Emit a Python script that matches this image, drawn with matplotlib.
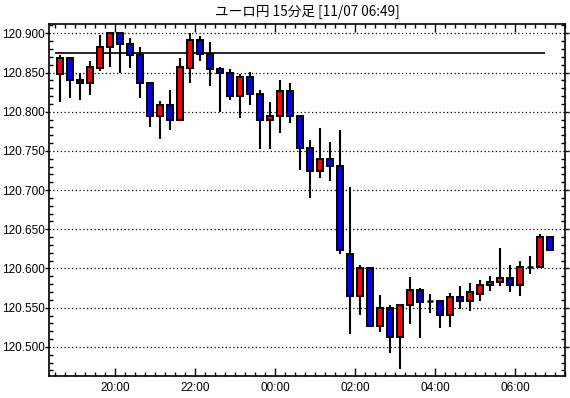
import matplotlib
matplotlib.use("Agg")
import matplotlib.pyplot as plt
from matplotlib.ticker import MultipleLocator, FixedLocator

# ---- data ----
title = "ユーロ円 15分足 [11/07 06:49]"
start_time = "18:30"   # first candle
interval_min = 15
opens  = [120.848, 120.868, 120.841, 120.836, 120.856, 120.883, 120.900, 120.886, 120.872, 120.836,
          120.795, 120.809, 120.790, 120.856, 120.891, 120.874, 120.854, 120.850, 120.820, 120.844,
          120.823, 120.789, 120.795, 120.827, 120.795, 120.754, 120.725, 120.740, 120.731, 120.618,
          120.565, 120.600, 120.527, 120.550, 120.512, 120.553, 120.573, 120.558, 120.558, 120.541,
          120.563, 120.559, 120.568, 120.579, 120.583, 120.588, 120.579, 120.602, 120.602, 120.640]
highs  = [120.872, 120.868, 120.850, 120.865, 120.898, 120.902, 120.902, 120.894, 120.882, 120.836,
          120.814, 120.828, 120.869, 120.901, 120.897, 120.889, 120.857, 120.855, 120.848, 120.851,
          120.828, 120.812, 120.840, 120.837, 120.795, 120.764, 120.779, 120.761, 120.777, 120.704,
          120.605, 120.602, 120.566, 120.553, 120.553, 120.589, 120.575, 120.568, 120.560, 120.569,
          120.578, 120.582, 120.585, 120.590, 120.626, 120.605, 120.610, 120.616, 120.644, 120.640]
lows   = [120.813, 120.818, 120.815, 120.821, 120.852, 120.857, 120.850, 120.856, 120.818, 120.781,
          120.765, 120.777, 120.790, 120.837, 120.865, 120.833, 120.799, 120.815, 120.792, 120.808,
          120.753, 120.753, 120.773, 120.786, 120.726, 120.690, 120.716, 120.712, 120.618, 120.516,
          120.541, 120.525, 120.519, 120.492, 120.472, 120.529, 120.511, 120.543, 120.524, 120.525,
          120.548, 120.546, 120.558, 120.571, 120.578, 120.570, 120.565, 120.593, 120.602, 120.624]
closes = [120.868, 120.841, 120.836, 120.857, 120.882, 120.900, 120.886, 120.872, 120.836, 120.795,
          120.809, 120.790, 120.857, 120.891, 120.873, 120.854, 120.850, 120.820, 120.844, 120.823,
          120.789, 120.795, 120.827, 120.795, 120.754, 120.725, 120.740, 120.731, 120.623, 120.565,
          120.600, 120.527, 120.550, 120.512, 120.553, 120.573, 120.557, 120.558, 120.541, 120.563,
          120.559, 120.570, 120.579, 120.583, 120.588, 120.579, 120.602, 120.602, 120.640, 120.624]
ref_level = 120.8745
ref_span = ("18:30", "06:45")
xtick_labels = ["20:00", "22:00", "00:00", "02:00", "04:00", "06:00"]
ytick_values = [120.500, 120.550, 120.600, 120.650, 120.700, 120.750, 120.800, 120.850, 120.900]

# ---- helpers: minutes relative to 20:00 ----
def to_min(s):
    h, m = map(int, s.split(":"))
    t = h * 60 + m - 20 * 60
    if t < -240:
        t += 24 * 60
    return t

t0 = to_min(start_time)
starts = [t0 + i * interval_min for i in range(len(opens))]
centers = [s + interval_min / 2 for s in starts]

fig = plt.figure(figsize=(5.70, 3.98), dpi=100)
ax = fig.add_axes([49.3 / 570, 1 - 375.5 / 398, (565 - 49.3) / 570, (375.5 - 24.3) / 398])

# wicks
ax.vlines(centers, lows, highs, colors="black", linewidth=1.5, zorder=2)
# bodies
for c, o, cl in zip(centers, opens, closes):
    if cl > o:
        col = "#ff0000"
    elif cl < o:
        col = "#0000ff"
    else:
        col = "black"
    if cl == o:
        ax.hlines(o, c - 4.5, c + 4.5, colors="black", linewidth=1.8, zorder=3)
    else:
        ax.bar(c, cl - o, bottom=o, width=7.8, color=col, edgecolor="black",
               linewidth=1.4, zorder=3)

# reference line
ax.hlines(ref_level, to_min(ref_span[0]), to_min(ref_span[1]), colors="black",
          linewidth=1.2, zorder=1)

# grid
for v in ytick_values:
    ax.axhline(v, color="black", linestyle=(0, (1, 2)), linewidth=0.9, zorder=0)

ax.set_ylim(120.4635, 120.9115)
ax.set_xlim(-98.5, 675)

ax.yaxis.set_major_locator(FixedLocator(ytick_values))
ax.yaxis.set_minor_locator(MultipleLocator(0.01))
ax.set_yticklabels([f"{v:.3f}" for v in ytick_values])
xt = [to_min(s) for s in xtick_labels]
ax.xaxis.set_major_locator(FixedLocator(xt))
ax.xaxis.set_minor_locator(MultipleLocator(15))
ax.set_xticklabels(xtick_labels)

ax.tick_params(axis="both", which="both", direction="in", top=True, right=True,
               labelsize=8, colors="black", width=1)
ax.tick_params(axis="x", which="major", length=6, pad=5)
ax.tick_params(axis="x", which="minor", length=3)
ax.tick_params(axis="y", which="major", length=3, direction="out", pad=0.5)
ax.tick_params(axis="y", which="minor", length=3, direction="in")
for lab in ax.get_xticklabels() + ax.get_yticklabels():
    lab.set_family("Liberation Sans")
    lab.set_fontsize(8.5)
for sp in ax.spines.values():
    sp.set_linewidth(1.2)

fig.text((49.3 + 565) / 2 / 570, 1 - 12 / 398, title, ha="center", va="center",
         fontsize=9.8, family=["Noto Sans CJK JP", "DejaVu Sans"])

fig.savefig("out.png", dpi=100)
